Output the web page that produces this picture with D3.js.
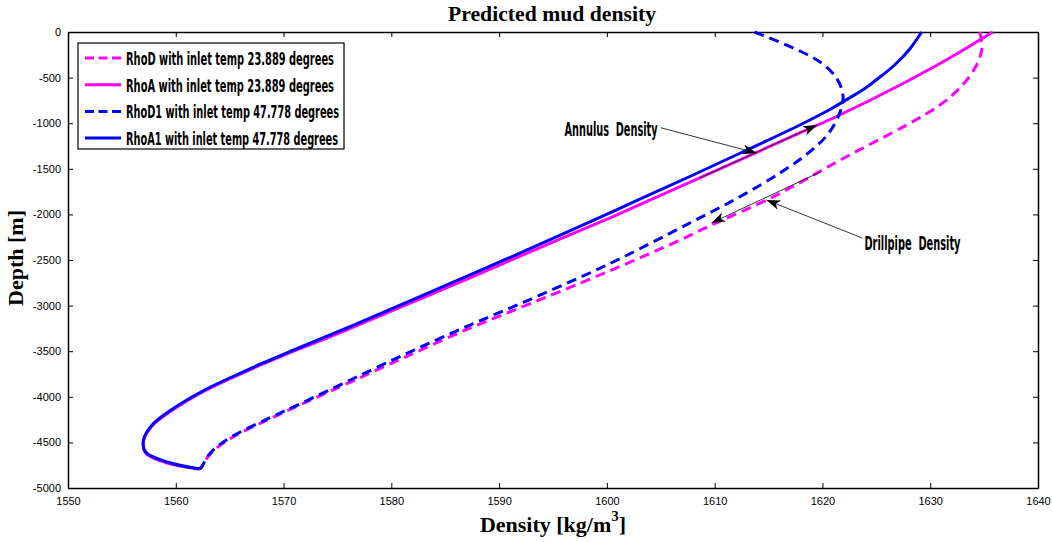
<!DOCTYPE html>
<html>
<head>
<meta charset="utf-8">
<script src="https://cdn.jsdelivr.net/npm/d3@7"></script>
<style>
  body { margin: 0; background: #fff; }
  .tick text { font-family: "Liberation Sans", Arial, sans-serif; font-size: 11px; fill: #000; }
  .tick line, .domain { stroke: #000; }
  .cond { font-family: "DejaVu Sans Condensed", "Liberation Sans Narrow", sans-serif; font-weight: bold; white-space: pre; }
  .serif { font-family: "Liberation Serif", "Times New Roman", serif; font-weight: bold; }
</style>
</head>
<body>
<div id="chart"></div>
<script>
// values: density [kg/m3] at depth [m]
const rhoDDepth = [0, -175, -362, -581, -800, -1020, -1349, -1513, -1809, -2138, -2281, -2632, -3026, -3246, -3542, -3838, -4090, -4254, -4441, -4561, -4671, -4770, -4792];
const rhoD      = [1634.6, 1634.8, 1634.3, 1633.0, 1630.9, 1627.8, 1622.5, 1620.0, 1615.4, 1609.3, 1606.8, 1600.0, 1591.9, 1587.3, 1581.7, 1576.2, 1571.5, 1568.5, 1565.3, 1563.8, 1562.9, 1562.4, 1562.2];

const rhoADepth = [0, -285, -581, -910, -1107, -1404, -1891, -2037, -2363, -2697, -3020, -3344, -3476, -3640, -3783, -3947, -4145, -4320, -4485, -4616, -4726, -4792];
const rhoA      = [1635.8, 1631.8, 1627.2, 1621.6, 1617.9, 1612.3, 1603.1, 1600.3, 1593.8, 1587.3, 1580.8, 1574.3, 1571.4, 1568.1, 1565.4, 1562.5, 1559.7, 1557.8, 1557.0, 1557.2, 1559.2, 1562.2];

const rhoD1Depth = [0, -197, -340, -504, -691, -855, -1107, -1316, -1535, -1809, -2094, -2555, -2982, -3213, -3509, -3816, -4079, -4243, -4430, -4550, -4660, -4770, -4792];
const rhoD1      = [1613.7, 1617.7, 1619.9, 1621.3, 1621.9, 1621.7, 1620.6, 1618.8, 1616.2, 1612.3, 1607.7, 1600.0, 1591.9, 1587.3, 1581.7, 1576.2, 1571.5, 1568.5, 1565.3, 1563.8, 1562.9, 1562.4, 1562.2];

const rhoA1Depth = [0, -186, -362, -515, -614, -724, -855, -1020, -1294, -1568, -1842, -2116, -2390, -2664, -2939, -3213, -3465, -3629, -3772, -3936, -4134, -4309, -4474, -4605, -4715, -4792];
const rhoA1      = [1629.2, 1628.1, 1626.7, 1625.1, 1624.0, 1622.5, 1620.6, 1617.9, 1613.0, 1608.0, 1602.9, 1597.8, 1592.6, 1587.3, 1581.9, 1576.5, 1571.4, 1568.1, 1565.4, 1562.5, 1559.7, 1557.8, 1557.0, 1557.2, 1559.2, 1562.2];

const seriesNames = ["RhoD with inlet temp 23.889 degrees", "RhoA with inlet temp 23.889 degrees",
                     "RhoD1 with inlet temp 47.778 degrees", "RhoA1 with inlet temp 47.778 degrees"];
const xTicks = [1550, 1560, 1570, 1580, 1590, 1600, 1610, 1620, 1630, 1640];
const yTicks = [0, -500, -1000, -1500, -2000, -2500, -3000, -3500, -4000, -4500, -5000];

// annotation arrows in data units [x1, y1, x2, y2]
const arrows = [
    [1605.0, -1050, 1613.9, -1327],
    [1608.6, -1601, 1619.5, -1020],
    [1623.7, -2259, 1614.8, -1842],
    [1619.8, -1535, 1609.7, -2094]
];

const margin = { top: 32, right: 14, bottom: 54, left: 68 },
    width = 1052 - margin.left - margin.right,
    height = 542 - margin.top - margin.bottom;

const svgRoot = d3.select("#chart").append("svg")
    .attr("width", 1052)
    .attr("height", 542);

const svg = svgRoot.append("g")
    .attr("transform", `translate(${margin.left},${margin.top})`);

const x = d3.scaleLinear().domain([1550, 1640]).range([0, width]);
const y = d3.scaleLinear().domain([-5000, 0]).range([height, 0]);

// axes, ticks pointing inward like matlab
svg.append("g")
    .attr("transform", `translate(0,${height})`)
    .call(d3.axisBottom(x).tickValues(xTicks).tickSize(-5).tickSizeOuter(0).tickPadding(9).tickFormat(d => String(d)));
svg.append("g")
    .call(d3.axisTop(x).tickValues(xTicks).tickSize(-5).tickSizeOuter(0).tickFormat(""));
svg.append("g")
    .call(d3.axisLeft(y).tickValues(yTicks).tickSize(-5).tickSizeOuter(0).tickPadding(7).tickFormat(d => String(d)));
svg.append("g")
    .attr("transform", `translate(${width},0)`)
    .call(d3.axisRight(y).tickValues(yTicks).tickSize(-5).tickSizeOuter(0).tickFormat(""));
svg.selectAll(".domain").attr("stroke-width", 1.5);

// curves
const series = [
    { name: seriesNames[0], dens: rhoD,  depth: rhoDDepth,  color: "#ff00ff", dash: "10,6" },
    { name: seriesNames[1], dens: rhoA,  depth: rhoADepth,  color: "#ff00ff", dash: null },
    { name: seriesNames[2], dens: rhoD1, depth: rhoD1Depth, color: "#0000ff", dash: "10,6" },
    { name: seriesNames[3], dens: rhoA1, depth: rhoA1Depth, color: "#0000ff", dash: null }
];

const line = d3.line()
    .x(d => x(d[0]))
    .y(d => y(d[1]))
    .curve(d3.curveCatmullRom.alpha(0.5));

series.forEach(s => {
    svg.append("path")
        .datum(s.dens.map((v, i) => [v, s.depth[i]]))
        .attr("fill", "none")
        .attr("stroke", s.color)
        .attr("stroke-width", 3)
        .attr("stroke-dasharray", s.dash)
        .attr("d", line);
});

// arrowhead
svgRoot.append("defs").append("marker")
    .attr("id", "head")
    .attr("viewBox", "0 0 14 10")
    .attr("refX", 14).attr("refY", 5)
    .attr("markerWidth", 14).attr("markerHeight", 10)
    .attr("markerUnits", "userSpaceOnUse")
    .attr("orient", "auto")
    .append("path")
    .attr("d", "M0,0 L14,5 L0,10 L4,5 Z")
    .attr("fill", "#000");

arrows.forEach(a => {
    svg.append("line")
        .attr("x1", x(a[0])).attr("y1", y(a[1]))
        .attr("x2", x(a[2])).attr("y2", y(a[3]))
        .attr("stroke", "#000")
        .attr("stroke-width", 0.8)
        .attr("marker-end", "url(#head)");
});

svg.append("text")
    .attr("class", "cond")
    .attr("x", x(1604.7) - 93).attr("y", y(-1064) + 7)
    .attr("font-size", 19)
    .attr("textLength", 93).attr("lengthAdjust", "spacingAndGlyphs")
    .text("Annulus  Density");

svg.append("text")
    .attr("class", "cond")
    .attr("x", x(1623.9)).attr("y", y(-2314) + 7)
    .attr("font-size", 19)
    .attr("textLength", 96).attr("lengthAdjust", "spacingAndGlyphs")
    .text("Drillpipe  Density");

// legend
const legend = svg.append("g").attr("transform", "translate(10,11)");
legend.append("rect")
    .attr("width", 266).attr("height", 106)
    .attr("fill", "#fff").attr("stroke", "#000").attr("stroke-width", 1.2);

const textLens = [208, 208, 213, 212];
series.forEach((s, i) => {
    const ly = 15 + i * 26.7;
    legend.append("line")
        .attr("x1", 7).attr("x2", 43)
        .attr("y1", ly).attr("y2", ly)
        .attr("stroke", s.color).attr("stroke-width", 3)
        .attr("stroke-dasharray", s.dash ? "9,4.5" : null);
    legend.append("text")
        .attr("class", "cond")
        .attr("x", 48).attr("y", ly + 7)
        .attr("font-size", 18.5)
        .attr("textLength", textLens[i]).attr("lengthAdjust", "spacingAndGlyphs")
        .text(s.name);
});

// title and axis labels
svgRoot.append("text")
    .attr("class", "serif")
    .attr("x", 552).attr("y", 21)
    .attr("text-anchor", "middle")
    .style("font-size", "20px")
    .attr("textLength", 208).attr("lengthAdjust", "spacingAndGlyphs")
    .text("Predicted mud density");

const xl = svgRoot.append("text")
    .attr("class", "serif")
    .attr("x", 553).attr("y", 532)
    .attr("text-anchor", "middle")
    .style("font-size", "22px");
xl.append("tspan").text("Density [kg/m");
xl.append("tspan").attr("dy", -11).style("font-size", "15px").text("3");
xl.append("tspan").attr("dy", 11).text("]");

svgRoot.append("text")
    .attr("class", "serif")
    .attr("transform", "translate(23,258) rotate(-90)")
    .attr("text-anchor", "middle")
    .style("font-size", "22px")
    .text("Depth [m]");
</script>
</body>
</html>
